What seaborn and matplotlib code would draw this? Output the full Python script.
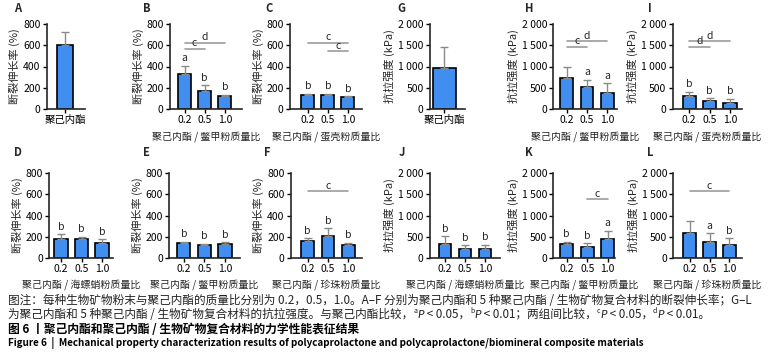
import matplotlib
matplotlib.use('Agg')
import numpy as np
import pandas as pd
import matplotlib.pyplot as plt
import seaborn as sns

sns.set_style('ticks')
plt.rcParams['font.family'] = ['Noto Sans CJK SC', 'DejaVu Sans']
plt.rcParams['axes.linewidth'] = 1.2

BLUE = '#3f8ef0'
W, H = 773, 362

# ---------------- data ----------------
ratios = ['0.2', '0.5', '1.0']
pcl = ['聚己内酯']

elong_A = [600];            elong_A_err = [127]
elong_B = [330, 165, 122];  elong_B_err = [76, 60, 12]
elong_C = [135, 135, 112];  elong_C_err = [10, 8, 6]
elong_D = [177, 174, 142];  elong_D_err = [44, 22, 32]
elong_E = [136, 120, 126];  elong_E_err = [16, 10, 19]
elong_F = [162, 209, 125];  elong_F_err = [22, 68, 15]

tens_G = [970];             tens_G_err = [500]
tens_H = [740, 510, 370];   tens_H_err = [240, 180, 237]
tens_I = [305, 190, 130];   tens_I_err = [95, 60, 110]
tens_J = [329, 212, 212];   tens_J_err = [180, 78, 100]
tens_K = [316, 245, 435];   tens_K_err = [64, 95, 197]
tens_L = [593, 380, 300];   tens_L_err = [277, 197, 158]

marks_B = ['a', 'b', 'b']
marks_C = ['b', 'b', 'b']
marks_D = ['b', 'b', 'b']
marks_E = ['b', 'b', 'b']
marks_F = ['b', 'b', 'b']
marks_H = ['', 'a', 'a']
marks_I = ['b', 'b', 'b']
marks_J = ['b', 'b', 'b']
marks_K = ['b', 'b', 'a']
marks_L = ['', 'a', 'b']

# (from, to, height, letter)
brk_B = [(0, 1, 568, 'c'), (0, 2, 625, 'd')]
brk_C = [(0, 2, 624, 'c'), (1, 2, 546, 'c')]
brk_F = [(0, 2, 630, 'c')]
brk_H = [(0, 1, 1462, 'c'), (0, 2, 1597, 'd')]
brk_I = [(0, 1, 1462, 'd'), (0, 2, 1597, 'd')]
brk_K = [(1, 2, 1384, 'c')]
brk_L = [(0, 2, 1581, 'c')]

ylab_e = '断裂伸长率 (%)'
ylab_t = '抗拉强度 (kPa)'
xl_bj = '聚己内酯 / 鳖甲粉质量比'
xl_dk = '聚己内酯 / 蛋壳粉质量比'
xl_hp = '聚己内酯 / 海螵蛸粉质量比'
xl_zz = '聚己内酯 / 珍珠粉质量比'

fig = plt.figure(figsize=(W / 100, H / 100), dpi=100)
fig.patch.set_facecolor('white')

rows = {1: (24, 109), 2: (173.3, 257.7)}


def panel(letter, lpos, row, geo, cats, vals, errs, ymax, ylabel, xlabel='',
          marks=None, brackets=(), width=0.64):
    left, right, c0, sp = geo
    top, bot = rows[row]
    ax = fig.add_axes([left / W, 1 - bot / H, (right - left) / W, (bot - top) / H])
    df = pd.DataFrame({'cat': cats, 'val': vals})
    sns.barplot(data=df, x='cat', y='val', ax=ax, color=BLUE, saturation=1,
                width=width, edgecolor='black', linewidth=1.2, errorbar=None)
    x = np.arange(len(cats))
    ax.errorbar(x, vals, yerr=[np.zeros(len(vals)), errs], fmt='none',
                ecolor='#8a8a8a', elinewidth=1, capsize=3, capthick=1, zorder=1)
    ax.set_xlim((left - c0) / sp, (right - c0) / sp)
    ax.set_ylim(0, ymax)
    if ymax == 800:
        ticks = [0, 200, 400, 600, 800]
        tl = [str(t) for t in ticks]
    else:
        ticks = [0, 500, 1000, 1500, 2000]
        tl = ['0', '500', '1 000', '1 500', '2 000']
    ax.set_yticks(ticks)
    ax.set_yticklabels(tl)
    sns.despine(ax=ax)
    ax.tick_params(length=3, width=1, labelsize=7.5, pad=1.5, colors='black')
    ax.set_ylabel(ylabel, fontsize=8, labelpad=2)
    ax.set_xlabel(xlabel, fontsize=7.2, labelpad=4)
    if len(cats) == 1:
        ax.tick_params(axis='x', labelsize=7.5)
    if marks:
        for i, m in enumerate(marks):
            if m:
                ax.text(i, vals[i] + errs[i] + ymax * 0.03, m, ha='center',
                        va='bottom', fontsize=7.5)
    for a, b, yy, t in brackets:
        ax.plot([a, b], [yy, yy], color='#9c9c9c', lw=1.2, clip_on=False)
        ax.text((a + b) / 2, yy + ymax * 0.005, t, ha='center', va='bottom', fontsize=7.5)
    fig.text(lpos[0] / W, 1 - lpos[1] / H, letter, fontsize=8, fontweight='bold',
             ha='left', va='center')
    return ax


panel('A', (14, 8), 1, (46.7, 85, 65, 30.6), pcl, elong_A, elong_A_err, 800, ylab_e, width=0.5)
panel('B', (143, 8), 1, (170, 241.5, 184.5, 20.2), ratios, elong_B, elong_B_err, 800, ylab_e, xl_bj, marks_B, brk_B)
panel('C', (265, 8), 1, (290, 361.7, 307.8, 20), ratios, elong_C, elong_C_err, 800, ylab_e, xl_dk, marks_C, brk_C)
panel('G', (397, 8), 1, (430, 465, 444.3, 29), pcl, tens_G, tens_G_err, 2000, ylab_t, width=0.8)
panel('H', (525, 8), 1, (553.3, 616.5, 566.7, 20.3), ratios, tens_H, tens_H_err, 2000, ylab_t, xl_bj, marks_H, brk_H)
panel('I', (648, 8), 1, (672.7, 741.7, 689.2, 20.4), ratios, tens_I, tens_I_err, 2000, ylab_t, xl_dk, marks_I, brk_I)

panel('D', (14, 153), 2, (49, 113.3, 61, 20.5), ratios, elong_D, elong_D_err, 800, ylab_e, xl_hp, marks_D)
panel('E', (143, 153), 2, (169.3, 240, 183.8, 20.6), ratios, elong_E, elong_E_err, 800, ylab_e, xl_bj, marks_E)
panel('F', (264, 153), 2, (290.7, 361.7, 307.7, 20.3), ratios, elong_F, elong_F_err, 800, ylab_e, xl_zz, marks_F, brk_F)
panel('J', (399, 153), 2, (430, 500, 445, 20), ratios, tens_J, tens_J_err, 2000, ylab_t, xl_hp, marks_J)
panel('K', (525, 153), 2, (553.3, 615, 566.7, 20.5), ratios, tens_K, tens_K_err, 2000, ylab_t, xl_bj, marks_K, brk_K)
panel('L', (647, 153), 2, (673.3, 741.7, 689.7, 19.8), ratios, tens_L, tens_L_err, 2000, ylab_t, xl_zz, marks_L, brk_L)

# ---------------- caption ----------------
renderer = fig.canvas.get_renderer()


def fit_text(x, y, s, target, **kw):
    t = fig.text(x / W, 1 - y / H, s, fontsize=8, va='center', ha='left', **kw)
    w = t.get_window_extent(renderer=renderer).width
    t.set_fontsize(8 * target / w)
    return 8 * target / w


cap1 = '图注：每种生物矿物粉末与聚己内酯的质量比分别为 0.2，0.5，1.0。A–F 分别为聚己内酯和 5 种聚己内酯 / 生物矿物复合材料的断裂伸长率；G–L'
fs = fit_text(8.3, 300, cap1, 747, color='#222222')

runs = [('为聚己内酯和 5 种聚己内酯 / 生物矿物复合材料的抗拉强度。与聚己内酯比较，', 'n'),
        ('a', 's'), ('P', 'i'), (' < 0.05，', 'n'),
        ('b', 's'), ('P', 'i'), (' < 0.01；两组间比较，', 'n'),
        ('c', 's'), ('P', 'i'), (' < 0.05，', 'n'),
        ('d', 's'), ('P', 'i'), (' < 0.01。', 'n')]
x = 8.3
for s, kind in runs:
    if kind == 'n':
        t = fig.text(x / W, 1 - 314.3 / H, s, fontsize=fs, va='center', color='#222222')
    elif kind == 's':
        t = fig.text(x / W, 1 - 311 / H, s, fontsize=fs * 0.6, va='center', color='#222222')
    else:
        t = fig.text(x / W, 1 - 314.3 / H, s, fontsize=fs, va='center', style='italic',
                     family='Lato', color='#222222')
    x += t.get_window_extent(renderer=renderer).width

cap3 = '图 6 丨聚己内酯和聚己内酯 / 生物矿物复合材料的力学性能表征结果'
fit_text(8.3, 329.3, cap3, 353.5, fontweight=600, color='black')
cap4 = 'Figure 6  |  Mechanical property characterization results of polycaprolactone and polycaprolactone/biomineral composite materials'
fit_text(8.3, 343.3, cap4, 640, fontweight='bold', color='black')

fig.savefig('out.png', dpi=100)
